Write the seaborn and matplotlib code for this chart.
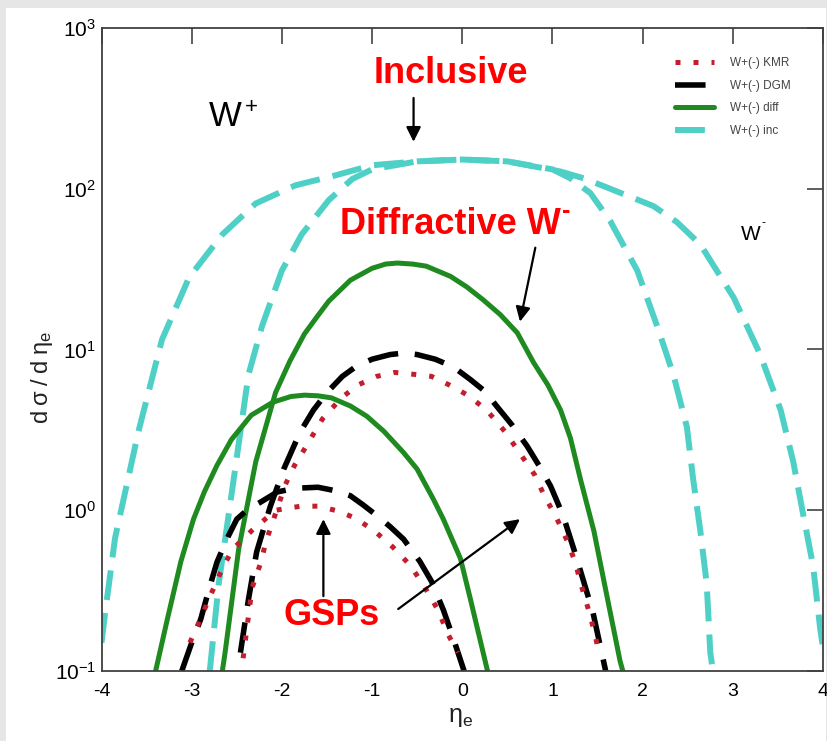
import numpy as np
import pandas as pd
import matplotlib
matplotlib.use("Agg")
import matplotlib.pyplot as plt
import seaborn as sns
from matplotlib.patches import Rectangle
from matplotlib.ticker import FixedLocator, NullLocator

# =============================
# Data
# =============================
# inclusive W (cyan dashed)
inc_a_x = [-4.0, -3.96, -3.85, -3.59, -3.33, -3.03, -2.66, -2.29, -1.85, -1.41, -1.0, -0.5, 0.0, 0.5,
           1.0, 1.2, 1.42, 1.64, 1.94, 2.16, 2.34, 2.49, 2.56, 2.64, 2.71, 2.75, 2.78]
inc_a_y = [0.15, 0.23, 0.67, 3.1, 11.5, 28, 52, 81, 105, 121, 140, 148, 152, 148,
           132, 116, 94, 63, 31, 14, 7.0, 3.3, 1.56, 0.74, 0.35, 0.13, 0.1]
inc_b_x = [-2.8, -2.78, -2.7, -2.59, -2.48, -2.37, -2.22, -2.0, -1.78, -1.48, -1.22, -1.0, -0.5,
           0.0, 0.5, 1.09, 1.35, 1.64, 2.12, 2.38, 2.64, 3.01, 3.3, 3.53, 3.67, 3.78, 3.89, 3.97, 4.0]
inc_b_y = [0.1, 0.128, 0.35, 0.94, 2.57, 7.0, 14, 31, 52, 85, 115, 132, 148,
           152, 148, 128, 116, 100, 78, 62, 45, 21, 9.4, 4.2, 2.0, 0.94, 0.45, 0.18, 0.14]

# diffractive W (green solid)
diff_a_x = [-2.66, -2.63, -2.48, -2.29, -2.07, -1.91, -1.75, -1.61, -1.48, -1.24, -1.0, -0.85,
            -0.72, -0.55, -0.4, -0.13, 0.05, 0.23, 0.42, 0.61, 0.79, 0.95, 1.09, 1.2, 1.31,
            1.46, 1.6, 1.75, 1.78]
diff_a_y = [0.1, 0.13, 0.57, 2.0, 5.4, 8.5, 12.5, 16, 20, 27, 32, 34,
            34.5, 34, 33, 28.5, 24.5, 20.4, 16.5, 12.7, 8.3, 6.0, 4.2, 2.8, 1.56,
            0.74, 0.3, 0.115, 0.1]
diff_b_x = [-3.4, -3.27, -3.12, -2.98, -2.86, -2.72, -2.56, -2.34, -2.1, -1.9, -1.75, -1.6, -1.45,
            -1.24, -1.06, -0.87, -0.65, -0.5, -0.32, -0.21, -0.02, 0.09, 0.28]
diff_b_y = [0.1, 0.21, 0.48, 0.88, 1.3, 1.9, 2.75, 3.9, 4.7, 5.1, 5.2, 5.15, 5.0,
            4.45, 3.85, 3.1, 2.28, 1.8, 1.17, 0.88, 0.5, 0.28, 0.1]

# DGM (black dashed)
dgm_a_x = [-2.46, -2.37, -2.28, -2.13, -1.98, -1.8, -1.65, -1.5, -1.33, -1.17, -1.0, -0.8, -0.65,
           -0.5, -0.3, -0.1, 0.09, 0.25, 0.38, 0.55, 0.72, 0.85, 0.98, 1.12, 1.27, 1.45, 1.59]
dgm_a_y = [0.13, 0.28, 0.55, 1.05, 1.8, 3.05, 4.2, 5.4, 6.8, 7.9, 8.7, 9.3, 9.5,
           9.3, 8.7, 7.8, 6.5, 5.5, 4.45, 3.4, 2.5, 1.9, 1.41, 0.92, 0.5, 0.23, 0.1]
dgm_b_x = [-3.11, -3.0, -2.9, -2.81, -2.72, -2.6, -2.5, -2.37, -2.24, -2.05, -1.85, -1.6, -1.4,
           -1.24, -1.1, -0.94, -0.8, -0.65, -0.47, -0.34, -0.21, -0.1, 0.02]
dgm_b_y = [0.1, 0.15, 0.21, 0.32, 0.475, 0.68, 0.88, 1.02, 1.12, 1.3, 1.37, 1.39, 1.32,
           1.23, 1.08, 0.92, 0.79, 0.66, 0.48, 0.36, 0.24, 0.16, 0.1]

# KMR (red dotted)
kmr_a_x = [-2.43, -2.38, -2.33, -2.23, -2.18, -1.96, -1.86, -1.79, -1.55, -1.34, -1.16, -0.95, -0.75,
           -0.53, -0.34, -0.14, 0.06, 0.27, 0.47, 0.63, 0.8, 0.91, 1.04, 1.16, 1.25, 1.32, 1.4, 1.47, 1.52]
kmr_a_y = [0.12, 0.2, 0.33, 0.48, 0.63, 1.45, 1.9, 2.2, 3.7, 5.0, 6.0, 6.8, 7.2,
           7.0, 6.8, 6.0, 5.2, 4.2, 3.1, 2.3, 1.67, 1.23, 0.91, 0.65, 0.48, 0.34, 0.24, 0.17, 0.126]
kmr_b_x = [-3.02, -2.92, -2.81, -2.68, -2.55, -2.33, -2.07, -1.79, -1.6, -1.38, -1.18, -0.97, -0.77,
           -0.57, -0.4, -0.27, -0.16, -0.05]
kmr_b_y = [0.15, 0.2, 0.28, 0.41, 0.57, 0.75, 1.0, 1.06, 1.06, 0.99, 0.89, 0.74, 0.59,
           0.45, 0.32, 0.24, 0.17, 0.13]

legend_labels = ['W+(-) KMR', 'W+(-) DGM', 'W+(-) diff', 'W+(-) inc']
x_ticks = [-4, -3, -2, -1, 0, 1, 2, 3, 4]
y_ticks = [0.1, 1, 10, 100, 1000]

# =============================
# Style
# =============================
sns.set_theme(style="white")
plt.rcParams['font.family'] = ['Liberation Sans', 'DejaVu Sans']
plt.rcParams['mathtext.fontset'] = 'custom'
plt.rcParams['mathtext.rm'] = 'Liberation Sans'
plt.rcParams['mathtext.it'] = 'Liberation Sans:italic'
plt.rcParams['mathtext.bf'] = 'Liberation Sans:bold'
plt.rcParams['axes.unicode_minus'] = False

cyan = '#4fd0c6'
green = '#1f8a1f'
black = '#000000'
red = '#c41e2e'

fig = plt.figure(figsize=(8.28, 7.41), dpi=100)
fig.patch.set_facecolor('#e6e6e6')
fig.add_artist(Rectangle((6 / 828, 0), 820 / 828, 733 / 741, transform=fig.transFigure,
                         facecolor='white', edgecolor='none', zorder=-10))
ax = fig.add_axes([0.1226, 0.0945, 0.8714, 0.8677])

# ---- curves
kw = dict(ax=ax, estimator=None, sort=False)
sns.lineplot(x=inc_a_x, y=inc_a_y, color=cyan, lw=4.3, linestyle=(0, (5, 2.2)), **kw)
sns.lineplot(x=inc_b_x, y=inc_b_y, color=cyan, lw=4.3, linestyle=(0, (5, 2.2)), **kw)
sns.lineplot(x=diff_a_x, y=diff_a_y, color=green, lw=3.6, **kw)
sns.lineplot(x=diff_b_x, y=diff_b_y, color=green, lw=3.6, **kw)
sns.lineplot(x=dgm_a_x, y=dgm_a_y, color=black, lw=4.0, linestyle=(0, (5.5, 3)), **kw)
sns.lineplot(x=dgm_b_x, y=dgm_b_y, color=black, lw=4.0, linestyle=(0, (5.5, 3)), **kw)
sns.lineplot(x=kmr_a_x, y=kmr_a_y, color=red, lw=3.6, linestyle=(0, (1, 2.6)), **kw)
sns.lineplot(x=kmr_b_x, y=kmr_b_y, color=red, lw=3.6, linestyle=(0, (1, 2.6)), **kw)

lines = ax.get_lines()
handles = [lines[6], lines[4], lines[2], lines[0]]
ax.legend(handles, legend_labels, loc='upper left', bbox_to_anchor=(0.788, 0.962),
          borderaxespad=0, frameon=False, fontsize=8.5, handlelength=3.3,
          labelspacing=0.9, handletextpad=1.4, labelcolor='#444444')

# ---- axes
ax.set_yscale('log')
ax.set_xlim(-4, 4)
ax.set_ylim(0.1, 1000)
ax.xaxis.set_major_locator(FixedLocator(x_ticks))
ax.yaxis.set_major_locator(FixedLocator(y_ticks))
ax.yaxis.set_minor_locator(NullLocator())
ax.xaxis.set_minor_locator(NullLocator())
ax.tick_params(axis='both', which='major', direction='in', length=11.5, width=1.1,
               color='#333333', top=True, right=True, labelcolor='black')
ax.tick_params(axis='x', labelsize=14, pad=9)
ax.tick_params(axis='y', labelsize=15, pad=4)
for s in ax.spines.values():
    s.set_color('#404040')
    s.set_linewidth(1.3)

ax.set_ylabel(r'd$\;\mathrm{\sigma}\;$/$\;$d$\;\mathrm{\eta}_\mathrm{e}$', fontsize=17, color='#222222')
ax.yaxis.set_label_coords(-0.0825, 0.457)
ax.yaxis.label.set_verticalalignment('center')
ax.set_xlabel(r'$\mathrm{\eta}_\mathrm{e}$', fontsize=18, color='#222222')
ax.xaxis.set_label_coords(0.497, -0.072)
ax.xaxis.label.set_verticalalignment('center')

# ---- annotations
big = dict(color='red', fontsize=26, fontweight='bold', ha='center', va='center')
arrow = dict(arrowstyle='-|>', color='black', lw=1.6, mutation_scale=22, shrinkA=0, shrinkB=0)

ax.text(-0.13, 520, 'Inclusive', **big)
ax.annotate('', xy=(-0.54, 196), xytext=(-0.54, 367), arrowprops=arrow)

ax.text(-0.13, 60, 'Diffractive W', **big)
ax.annotate('-', xy=(1.07, 60), xytext=(2, 10), textcoords='offset points',
            color='red', fontsize=18, fontweight='bold', ha='left', va='center')
ax.annotate('', xy=(0.64, 14.9), xytext=(0.81, 43), arrowprops=arrow)

ax.text(-1.45, 0.22, 'GSPs', **big)
ax.annotate('', xy=(-1.54, 0.88), xytext=(-1.54, 0.292), arrowprops=arrow)
ax.annotate('', xy=(0.64, 0.88), xytext=(-0.71, 0.243), arrowprops=arrow)

ax.text(-2.63, 280, 'W', color='black', fontsize=25, ha='center', va='center')
ax.annotate('+', xy=(-2.43, 280), xytext=(1, 7), textcoords='offset points',
            color='black', fontsize=16, ha='left', va='center')
ax.text(3.2, 52, 'W', color='black', fontsize=15, ha='center', va='center')
ax.annotate('-', xy=(3.3, 52), xytext=(1, 8), textcoords='offset points',
            color='black', fontsize=9, ha='left', va='center')

plt.savefig('out.png', dpi=100, facecolor=fig.get_facecolor())
